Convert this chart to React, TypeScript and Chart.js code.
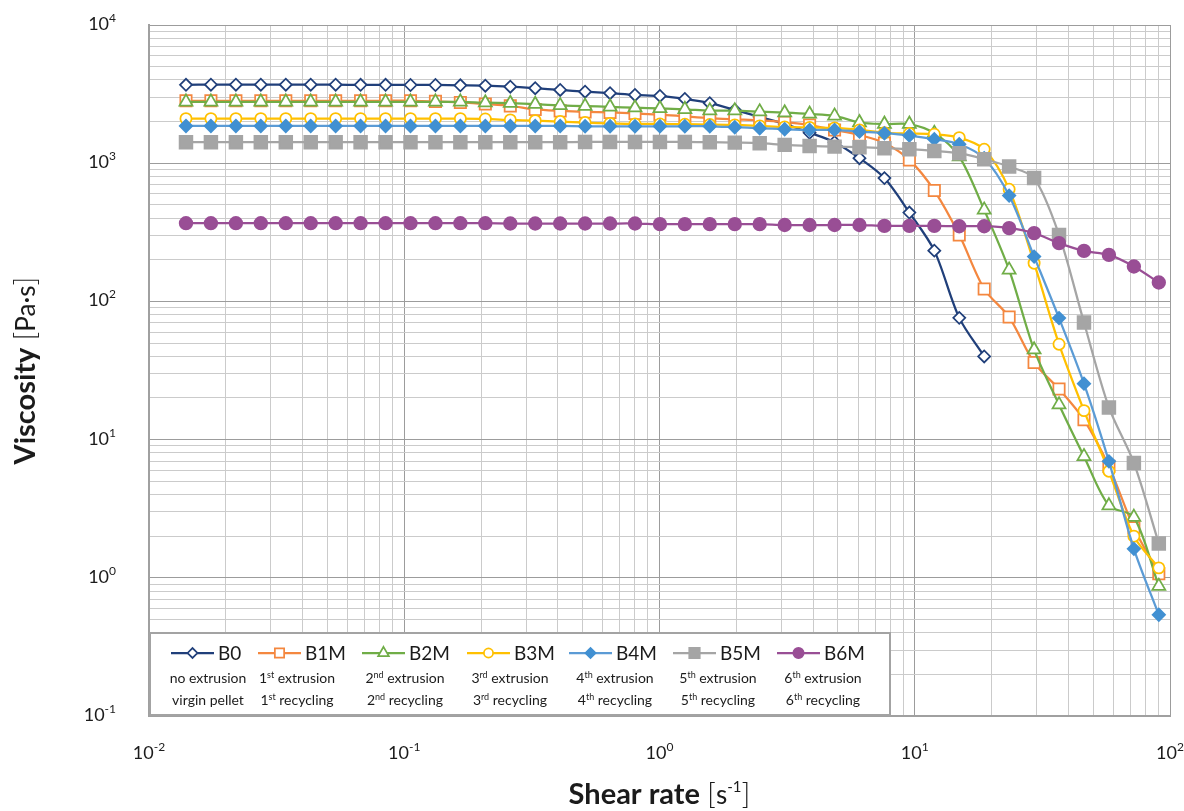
import React, { useEffect, useRef } from 'react';
import { Chart, registerables } from 'chart.js';

Chart.register(...registerables);

// ---- Data ----
const shearRate = [
  0.01396, 0.01748, 0.0219, 0.02742, 0.03435, 0.04301, 0.05386, 0.06745, 0.08449, 0.1058,
  0.1325, 0.1659, 0.2078, 0.2603, 0.3259, 0.4082, 0.5111, 0.6401, 0.8017, 1.004,
  1.257, 1.574, 1.972, 2.469, 3.093, 3.873, 4.851, 6.074, 7.606, 9.526,
  11.93, 14.94, 18.71, 23.43, 29.35, 36.75, 46.03, 57.64, 72.19, 90.4,
];

const viscB0 = [
  3690, 3700, 3700, 3700, 3700, 3700, 3700, 3690, 3690, 3680,
  3680, 3660, 3640, 3580, 3490, 3390, 3290, 3210, 3120, 3070,
  2920, 2720, 2430, 2160, 1920, 1660, 1420, 1087, 780, 439,
  233, 76, 40,
];
const viscB1M = [
  2830, 2830, 2830, 2830, 2830, 2830, 2830, 2830, 2830, 2830,
  2800, 2750, 2680, 2600, 2450, 2390, 2350, 2330, 2290, 2250,
  2180, 2115, 2075, 2040, 1980, 1890, 1740, 1600, 1400, 1057,
  634, 303, 123, 77, 36.1, 23.2, 13.9, 6.4, 2.3, 1.07,
];
const viscB2M = [
  2780, 2780, 2780, 2780, 2780, 2780, 2780, 2780, 2780, 2780,
  2780, 2780, 2740, 2716, 2672, 2620, 2590, 2560, 2520, 2490,
  2455, 2400, 2400, 2360, 2320, 2270, 2200, 1970, 1920, 1920,
  1650, 1116, 459, 169, 44.7, 17.9, 7.56, 3.33, 2.75, 0.87,
];
const viscB3M = [
  2100, 2100, 2100, 2100, 2100, 2100, 2100, 2100, 2100, 2100,
  2100, 2100, 2090, 2056, 2032, 2000, 1968, 1941, 1923, 1923,
  1914, 1905, 1892, 1862, 1830, 1815, 1800, 1741, 1660, 1640,
  1621, 1531, 1262, 648, 189, 49, 16.2, 5.9, 2.0, 1.18,
];
const viscB4M = [
  1860, 1860, 1860, 1860, 1860, 1860, 1860, 1860, 1860, 1860,
  1860, 1860, 1860, 1860, 1860, 1860, 1850, 1850, 1850, 1850,
  1850, 1850, 1821, 1790, 1762, 1742, 1742, 1692, 1648, 1584,
  1492, 1372, 1087, 583, 211, 75.7, 25.4, 6.96, 1.62, 0.54,
];
const viscB5M = [
  1420, 1420, 1420, 1420, 1420, 1420, 1420, 1420, 1420, 1420,
  1420, 1420, 1420, 1420, 1420, 1420, 1425, 1425, 1425, 1425,
  1425, 1420, 1409, 1396, 1357, 1334, 1318, 1305, 1284, 1262,
  1227, 1181, 1069, 945, 780, 303, 70.4, 17.1, 6.78, 1.77,
];
const viscB6M = [
  368, 368, 368, 368, 368, 368, 368, 368, 368, 368,
  368, 368, 368, 366, 366, 366, 366, 366, 366, 362,
  362, 362, 362, 362, 357, 357, 357, 357, 352, 352,
  352, 350, 350, 339, 312, 264, 232, 217, 179, 137,
];

const seriesNames = ['B0', 'B1M', 'B2M', 'B3M', 'B4M', 'B5M', 'B6M'];
const seriesValues = [viscB0, viscB1M, viscB2M, viscB3M, viscB4M, viscB5M, viscB6M];
const ordinalNums = ['', '1', '2', '3', '4', '5', '6'];
const ordinalSuffix = ['', 'st', 'nd', 'rd', 'th', 'th', 'th'];
const firstLineWord = ' extrusion';
const secondLineWord = ' recycling';
const firstLineB0 = 'no extrusion';
const secondLineB0 = 'virgin pellet';

const xExponents = [-2, -1, 0, 1, 2];
const yExponents = [-1, 0, 1, 2, 3, 4];

// ---- Styles ----
const styles = [
  { line: '#203F7A', fill: '#FFFFFF', stroke: '#203F7A', shape: 'rectRot', r: 6 },
  { line: '#F4873F', fill: '#FFFFFF', stroke: '#F4873F', shape: 'rect', r: 8 },
  { line: '#70AD47', fill: '#FFFFFF', stroke: '#70AD47', shape: 'triangle', r: 7.5 },
  { line: '#FFC000', fill: '#FFFFFF', stroke: '#FFC000', shape: 'circle', r: 5.6 },
  { line: '#5B9BD5', fill: '#4190D2', stroke: '#4190D2', shape: 'rectRot', r: 6.2 },
  { line: '#A5A5A5', fill: '#A5A5A5', stroke: '#A5A5A5', shape: 'rect', r: 9 },
  { line: '#994E95', fill: '#994E95', stroke: '#994E95', shape: 'circle', r: 6.3 },
];

const FONT = 'Lato, "Open Sans", sans-serif';
const TEXT = '#1b1b1b';

const isMajor = (v: number) => Math.abs(Math.log10(v) - Math.round(Math.log10(v))) < 1e-9;

function logTicks(minExp: number, maxExp: number) {
  const t: { value: number; major: boolean }[] = [];
  for (let e = minExp; e < maxExp; e++) {
    for (let m = 1; m < 10; m++) {
      const v = parseFloat((m * Math.pow(10, e)).toPrecision(6));
      t.push({ value: v, major: m === 1 });
    }
  }
  t.push({ value: Math.pow(10, maxExp), major: true });
  return t;
}

type Seg = { t: string; f: string; dy?: number };
function drawSegs(ctx: CanvasRenderingContext2D, segs: Seg[], x: number, y: number, align: 'left' | 'center' | 'right') {
  let w = 0;
  for (const s of segs) { ctx.font = s.f; w += ctx.measureText(s.t).width; }
  let cx = align === 'left' ? x : align === 'center' ? x - w / 2 : x - w;
  ctx.textAlign = 'left';
  ctx.textBaseline = 'alphabetic';
  for (const s of segs) {
    ctx.font = s.f;
    ctx.fillText(s.t, cx, y + (s.dy || 0));
    cx += ctx.measureText(s.t).width;
  }
}

function drawMarker(ctx: CanvasRenderingContext2D, shape: string, x: number, y: number, r: number) {
  ctx.beginPath();
  if (shape === 'circle') {
    ctx.arc(x, y, r, 0, Math.PI * 2);
  } else if (shape === 'rect') {
    const s = Math.SQRT1_2 * r;
    ctx.rect(x - s, y - s, 2 * s, 2 * s);
  } else if (shape === 'rectRot') {
    ctx.moveTo(x - r, y); ctx.lineTo(x, y - r); ctx.lineTo(x + r, y); ctx.lineTo(x, y + r); ctx.closePath();
  } else if (shape === 'triangle') {
    let a = 0;
    ctx.moveTo(x + Math.sin(a) * r, y - Math.cos(a) * r);
    a += (2 * Math.PI) / 3;
    ctx.lineTo(x + Math.sin(a) * r, y - Math.cos(a) * r);
    a += (2 * Math.PI) / 3;
    ctx.lineTo(x + Math.sin(a) * r, y - Math.cos(a) * r);
    ctx.closePath();
  }
  ctx.fill();
  ctx.stroke();
}

// legend layout (pixel offsets from plot left)
const legendLineStart = [22, 109, 213, 318, 420, 524, 628];
const legendSubCenter = [59, 148, 256, 361, 466, 569, 674];

const decorPlugin = {
  id: 'decor',
  beforeDraw(chart: any) {
    const { ctx, width, height } = chart;
    ctx.save();
    ctx.fillStyle = '#ffffff';
    ctx.fillRect(0, 0, width, height);
    ctx.restore();
  },
  afterDraw(chart: any) {
    const { ctx, chartArea, scales } = chart;
    const xs = scales.x;
    const ys = scales.y;
    ctx.save();
    ctx.fillStyle = TEXT;

    // y tick labels
    for (const e of yExponents) {
      const py = ys.getPixelForValue(Math.pow(10, e));
      drawSegs(ctx, [
        { t: '10', f: `18px ${FONT}` },
        { t: e < 0 ? '-' + Math.abs(e) : String(e), f: `12px ${FONT}`, dy: -8 },
      ], chartArea.left - 33, py + 5, 'right');
    }
    // x tick labels
    for (const e of xExponents) {
      const px = xs.getPixelForValue(Math.pow(10, e));
      drawSegs(ctx, [
        { t: '10', f: `18px ${FONT}` },
        { t: e < 0 ? '-' + Math.abs(e) : String(e), f: `12px ${FONT}`, dy: -8 },
      ], px, chartArea.bottom + 43, 'center');
    }

    // x title
    const cxm = (chartArea.left + chartArea.right) / 2;
    drawSegs(ctx, [
      { t: 'Shear rate ', f: `bold 29px ${FONT}` },
      { t: '[', f: `300 30px ${FONT}` },
      { t: 's', f: `26px ${FONT}` },
      { t: '-1', f: `15px ${FONT}`, dy: -12 },
      { t: ']', f: `300 30px ${FONT}` },
    ], cxm, 804, 'center');

    // y title
    const cym = (chartArea.top + chartArea.bottom) / 2;
    ctx.translate(35, cym);
    ctx.rotate(-Math.PI / 2);
    drawSegs(ctx, [
      { t: 'Viscosity ', f: `bold 29px ${FONT}` },
      { t: '[', f: `300 30px ${FONT}` },
      { t: 'Pa·s', f: `26px ${FONT}` },
      { t: ']', f: `300 30px ${FONT}` },
    ], 0, 0, 'center');
    ctx.setTransform(1, 0, 0, 1, 0, 0);

    // legend
    const L = chartArea.left;
    const B = chartArea.bottom;
    const top = B - 83;
    ctx.fillStyle = '#ffffff';
    ctx.fillRect(L, top, 741, B - top);
    ctx.strokeStyle = '#a3a3a3';
    ctx.lineWidth = 2;
    ctx.strokeRect(L + 1, top, 740, B - top - 1);

    const row1 = top + 20;
    for (let i = 0; i < seriesNames.length; i++) {
      const st = styles[i];
      const x0 = L + legendLineStart[i];
      const x1 = x0 + 43;
      ctx.strokeStyle = st.line;
      ctx.lineWidth = 2.25;
      ctx.beginPath();
      ctx.moveTo(x0, row1);
      ctx.lineTo(x1, row1);
      ctx.stroke();
      ctx.fillStyle = st.fill;
      ctx.strokeStyle = st.stroke;
      ctx.lineWidth = 1.75;
      drawMarker(ctx, st.shape, (x0 + x1) / 2, row1, st.r * 0.82);
      ctx.fillStyle = TEXT;
      drawSegs(ctx, [{ t: seriesNames[i], f: `19px ${FONT}` }], x1 + 4, row1 + 7, 'left');

      const sc = L + legendSubCenter[i];
      if (i === 0) {
        drawSegs(ctx, [{ t: firstLineB0, f: `14px ${FONT}` }], sc, top + 50, 'center');
        drawSegs(ctx, [{ t: secondLineB0, f: `14px ${FONT}` }], sc, top + 72, 'center');
      } else {
        drawSegs(ctx, [
          { t: ordinalNums[i], f: `14px ${FONT}` },
          { t: ordinalSuffix[i], f: `9px ${FONT}`, dy: -5 },
          { t: firstLineWord, f: `14px ${FONT}` },
        ], sc, top + 50, 'center');
        drawSegs(ctx, [
          { t: ordinalNums[i], f: `14px ${FONT}` },
          { t: ordinalSuffix[i], f: `9px ${FONT}`, dy: -5 },
          { t: secondLineWord, f: `14px ${FONT}` },
        ], sc, top + 72, 'center');
      }
    }
    ctx.restore();
  },
};

export default function App() {
  const ref = useRef<HTMLCanvasElement>(null);
  useEffect(() => {
    const datasets = seriesNames.map((name, i) => {
      const st = styles[i];
      return {
        label: name,
        data: seriesValues[i].map((v, k) => ({ x: shearRate[k], y: v })),
        borderColor: st.line,
        borderWidth: 2.25,
        pointStyle: st.shape,
        pointRadius: st.r,
        pointBackgroundColor: st.fill,
        pointBorderColor: st.stroke,
        pointBorderWidth: 1.75,
        tension: 0.3,
        fill: false,
        order: seriesNames.length - i,
      };
    });
    const gridColor = (c: any) => (c.tick && isMajor(c.tick.value) ? '#9c9c9c' : '#cbcbcb');
    const chart = new Chart(ref.current as HTMLCanvasElement, {
      type: 'line',
      data: { datasets } as any,
      plugins: [decorPlugin],
      options: {
        responsive: false,
        animation: false,
        devicePixelRatio: 1,
        layout: { padding: { left: 149, right: 14, top: 25, bottom: 95 } },
        plugins: { legend: { display: false }, tooltip: { enabled: false } },
        scales: {
          x: {
            type: 'logarithmic',
            min: 0.01,
            max: 100,
            afterBuildTicks: (scale: any) => { scale.ticks = logTicks(-2, 2); },
            ticks: { display: false },
            grid: { color: gridColor, lineWidth: 1, drawTicks: false },
            border: { display: true, color: '#a0a0a0', width: 2 },
          },
          y: {
            type: 'logarithmic',
            min: 0.1,
            max: 10000,
            afterBuildTicks: (scale: any) => { scale.ticks = logTicks(-1, 4); },
            ticks: { display: false },
            grid: { color: gridColor, lineWidth: 1, drawTicks: false },
            border: { display: true, color: '#a0a0a0', width: 2 },
          },
        },
      } as any,
    });
    return () => chart.destroy();
  }, []);
  return (
    <canvas
      ref={ref}
      width={1184}
      height={811}
      style={{ position: 'fixed', left: 0, top: 0, width: 1184, height: 811, display: 'block' }}
    />
  );
}
